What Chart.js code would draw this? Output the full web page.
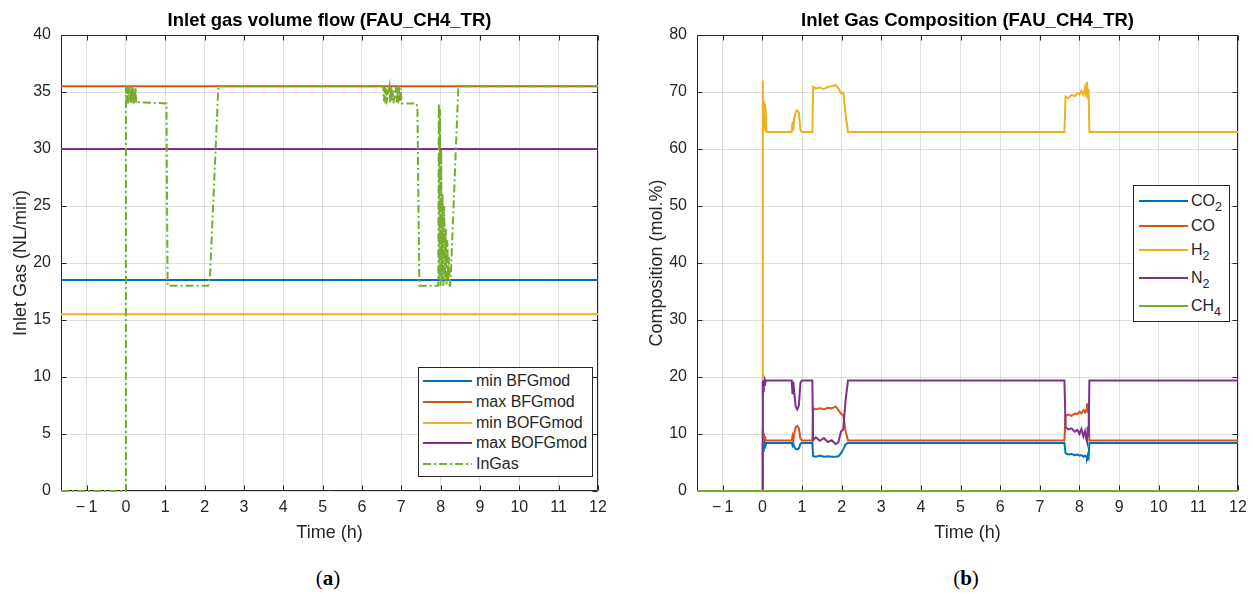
<!DOCTYPE html>
<html>
<head>
<meta charset="utf-8">
<script src="https://cdn.jsdelivr.net/npm/chart.js@4.4.0/dist/chart.umd.min.js"></script>
<style>
html,body{margin:0;padding:0;background:#fff;width:1253px;height:594px;overflow:hidden;font-family:"Liberation Sans",Arial,sans-serif;}
#wrap{position:relative;width:1253px;height:594px;}
canvas{position:absolute;top:0;}
#cA{left:0;}
#cB{left:636px;}
.legend{position:absolute;background:#fff;border:1px solid #262626;box-sizing:border-box;}
.item{position:absolute;left:0;height:20px;line-height:20px;font-size:16px;color:#262626;white-space:nowrap;}
.item svg{position:absolute;top:0;}
.item .t{position:absolute;top:0;}
.sub{font-size:12.5px;position:relative;top:5px;}
.caption{position:absolute;top:565px;width:200px;text-align:center;font-family:"Liberation Serif","DejaVu Serif",serif;font-size:21px;line-height:26px;color:#000;}
</style>
</head>
<body>
<div id="wrap">
  <canvas id="cA" width="610" height="560"></canvas>
  <canvas id="cB" width="614" height="560"></canvas>
  <div id="legA" class="legend" style="left:418px;top:367px;width:175px;height:110px;"></div>
  <div id="legB" class="legend" style="left:1133px;top:185px;width:97px;height:137px;"></div>
  <div class="caption" style="left:228px;">(<b>a</b>)</div>
  <div class="caption" style="left:866px;">(<b>b</b>)</div>
</div>
<script>
// ---------- shared axis data ----------
const xTickValues = [-1,0,1,2,3,4,5,6,7,8,9,10,11,12];
const xTickLabels = ['\u2212\u20091','0','1','2','3','4','5','6','7','8','9','10','11','12'];
const xMin = -1.65, xMax = 12;

// ---------- (a) Inlet gas volume flow ----------
const flowTitle = 'Inlet gas volume flow (FAU_CH4_TR)';
const flowYLabel = 'Inlet Gas (NL/min)';
const flowSeriesNames = ['min BFGmod','max BFGmod','min BOFGmod','max BOFGmod','InGas'];
const limitTime = [-1.65, 12];
const minBFGmod  = [18.5, 18.5];
const maxBFGmod  = [35.5, 35.5];
const minBOFGmod = [15.5, 15.5];
const maxBOFGmod = [30, 30];
const inGasTime = [
  -1.65, 0, 0, 0.02, 0.035, 0.05, 0.065, 0.08, 0.095, 0.11, 0.125, 0.14, 0.155, 0.17, 0.185, 0.2, 0.215, 0.23, 0.245, 0.26, 0.28,
  1.03, 1.06, 2.09, 2.14, 2.35,
  6.54, 6.56, 6.58, 6.60, 6.62, 6.64, 6.70, 6.72, 6.74, 6.76, 6.78, 6.80, 6.86, 6.88, 6.90, 6.92, 6.94, 6.96, 6.98, 7.01,
  7.39, 7.41, 7.46, 7.94,
  7.955, 7.97, 7.985, 8.00, 8.015, 8.03, 8.05, 8.07, 8.09, 8.11, 8.13, 8.15, 8.17, 8.19, 8.21, 8.23, 8.24,
  8.26, 8.45, 12
];
const inGasFlow = [
  0, 0, 35.5, 34.3, 35.5, 34.0, 35.4, 34.6, 35.5, 34.1, 35.2, 34.0, 35.5, 34.4, 35.3, 34.0, 35.0, 34.2, 35.4, 34.0, 34.1,
  34.0, 18.0, 18.0, 19.0, 35.5,
  35.5, 34.2, 35.5, 34.0, 35.3, 34.4, 35.5, 34.0, 35.5, 34.3, 35.2, 34.0, 35.5, 34.1, 35.4, 34.0, 35.5, 34.2, 35.3, 34.0,
  34.0, 33.5, 18.0, 18.0,
  34.0, 18.5, 33.5, 18.0, 30.0, 18.5, 26.0, 18.0, 25.0, 18.5, 23.0, 18.0, 22.0, 18.5, 20.5, 18.0, 18.0,
  19.0, 35.5, 35.5
];

// ---------- (b) Inlet gas composition ----------
const compTitle = 'Inlet Gas Composition (FAU_CH4_TR)';
const compYLabel = 'Composition (mol.%)';
const compSeriesNames = ['CO\u2082','CO','H\u2082','N\u2082','CH\u2084'];
const compTime = [
  -1.65, 0, 0.005, 0.015, 0.025, 0.035, 0.05, 0.065, 0.08, 0.10,
  0.74, 0.76, 0.78, 0.80, 0.84, 0.88, 0.92, 0.96, 1.00,
  1.26, 1.28, 1.35, 1.45, 1.55, 1.65, 1.75, 1.85, 1.92, 1.98, 2.04, 2.10, 2.16,
  7.62, 7.65, 7.72, 7.80, 7.88, 7.95, 8.00, 8.05, 8.10, 8.14, 8.17, 8.19, 8.21, 8.23, 8.25, 12
];
const co2 = [
  0, 0, 6.5, 8.2, 7.0, 8.3, 7.6, 8.4, 8.0, 8.4,
  8.4, 8.0, 8.4, 7.8, 7.4, 7.3, 7.5, 8.3, 8.4,
  8.4, 6.1, 6.0, 6.2, 6.0, 6.1, 6.0, 6.0, 6.1, 6.6, 7.3, 8.2, 8.4,
  8.4, 6.6, 6.4, 6.5, 6.3, 6.4, 6.2, 6.3, 6.0, 6.2, 6.0, 5.8, 6.3, 5.9, 8.4, 8.4
];
const co = [
  0, 0, 9.5, 10.8, 9.0, 10.2, 9.0, 9.6, 8.9, 8.85,
  8.85, 9.6, 8.9, 10.0, 11.2, 11.4, 11.0, 9.2, 8.85,
  8.85, 14.5, 14.3, 14.5, 14.3, 14.6, 14.5, 14.8, 14.2, 13.6, 13.3, 10.5, 8.85,
  8.85, 13.2, 13.4, 13.2, 13.6, 13.5, 13.9, 13.6, 14.2, 13.8, 14.3, 15.4, 13.7, 15.1, 8.85, 8.85
];
const h2 = [
  0, 0, 72.0, 64.0, 68.5, 63.5, 68.0, 63.2, 67.2, 63.0,
  63.0, 64.8, 63.2, 65.2, 66.5, 66.8, 66.4, 63.3, 63.0,
  63.0, 70.9, 70.6, 70.8, 70.5, 70.9, 71.0, 71.2, 70.7, 69.8, 69.9, 66.0, 63.0,
  63.0, 69.2, 68.9, 69.5, 69.3, 69.8, 69.6, 70.2, 69.5, 70.8, 69.3, 71.8, 68.8, 70.5, 63.0, 63.0
];
const n2 = [
  0, 0, 12.0, 19.4, 17.5, 19.4, 18.6, 19.4, 19.1, 19.4,
  19.4, 17.0, 19.2, 17.5, 14.8, 14.3, 15.0, 19.0, 19.4,
  19.4, 8.9, 9.4, 8.8, 9.3, 8.6, 8.9, 8.2, 8.6, 10.4, 10.8, 16.0, 19.4,
  19.4, 11.2, 10.8, 11.0, 10.4, 10.7, 10.0, 10.9, 9.6, 10.5, 9.2, 8.7, 11.3, 9.5, 19.4, 19.4
];
const ch4 = [
  0, 0, 0, 0, 0, 0, 0, 0, 0, 0,
  0, 0, 0, 0, 0, 0, 0, 0, 0,
  0, 0, 0, 0, 0, 0, 0, 0, 0, 0, 0, 0, 0,
  0, 0, 0, 0, 0, 0, 0, 0, 0, 0, 0, 0, 0, 0, 0, 0
];

// ---------- styling ----------
const C_BLUE = '#0072BD', C_ORANGE = '#D95319', C_YELLOW = '#EDB120', C_PURPLE = '#7E2F8E', C_GREEN = '#77AC30';
const INK = '#262626';
const DASHDOT = [8, 3, 2, 3];

Chart.defaults.font.family = '"Liberation Sans", Arial, Helvetica, sans-serif';
Chart.defaults.color = INK;

function toXY(t, v) { return t.map((x, i) => ({x: x, y: v[i]})); }

function line(label, t, v, color, order, dash) {
  return {
    label: label, data: toXY(t, v), borderColor: color, backgroundColor: color,
    borderWidth: 2, pointRadius: 0, tension: 0, fill: false, order: order,
    borderDash: dash || [], clip: 4
  };
}

const matlabBox = {
  id: 'matlabBox',
  beforeDatasetsDraw(chart) {
    const {ctx, chartArea: a, scales} = chart;
    const x = scales.x, y = scales.y;
    const l = Math.round(a.left) + 0.5, r = Math.round(a.right) - 0.5;
    const t = Math.round(a.top) + 0.5, b = Math.round(a.bottom) - 0.5;
    ctx.save();
    ctx.strokeStyle = INK;
    ctx.lineWidth = 1;
    ctx.setLineDash([]);
    ctx.beginPath();
    ctx.rect(l, t, r - l, b - t);
    const TL = 5;
    x.ticks.forEach(tk => {
      const px = Math.round(x.getPixelForValue(tk.value)) + 0.5;
      ctx.moveTo(px, b); ctx.lineTo(px, b - TL);
      ctx.moveTo(px, t); ctx.lineTo(px, t + TL);
    });
    y.ticks.forEach(tk => {
      const py = Math.round(y.getPixelForValue(tk.value)) + 0.5;
      ctx.moveTo(l, py); ctx.lineTo(l + TL, py);
      ctx.moveTo(r, py); ctx.lineTo(r - TL, py);
    });
    ctx.stroke();
    ctx.restore();
  }
};

function makeChart(canvasId, datasets, titleText, yTitle, yMax, yStep) {
  return new Chart(document.getElementById(canvasId), {
    type: 'line',
    data: {datasets: datasets},
    options: {
      responsive: false,
      animation: false,
      devicePixelRatio: 1,
      layout: {padding: {left: 0, right: 12, top: 0, bottom: 0}},
      plugins: {
        legend: {display: false},
        tooltip: {enabled: false},
        title: {
          display: true, text: titleText, color: '#000', fullSize: false,
          font: {size: 18.5, weight: 'bold', lineHeight: 1.2},
          padding: {top: 9.5, bottom: 3.3}
        }
      },
      scales: {
        x: {
          type: 'linear', min: xMin, max: xMax,
          afterBuildTicks: s => { s.ticks = xTickValues.map(v => ({value: v})); },
          afterFit: s => { s.height = 69; s.paddingLeft = 0; s.paddingRight = 0; },
          ticks: {
            autoSkip: false, maxRotation: 0, padding: 7, color: INK,
            font: {size: 16},
            callback: v => { const i = xTickValues.indexOf(v); return i >= 0 ? xTickLabels[i] : ''; }
          },
          grid: {color: 'rgba(38,38,38,0.15)', drawTicks: false, lineWidth: 1},
          border: {display: false},
          title: {display: true, text: 'Time (h)', color: INK, font: {size: 18, lineHeight: 1.2}, padding: {top: 0, bottom: 16.2}}
        },
        y: {
          type: 'linear', min: 0, max: yMax,
          afterFit: s => { s.width = 61; s.paddingTop = 0; s.paddingBottom = 0; },
          ticks: {stepSize: yStep, padding: 10, color: INK, font: {size: 16}},
          grid: {color: 'rgba(38,38,38,0.15)', drawTicks: false, lineWidth: 1},
          border: {display: false},
          title: {display: true, text: yTitle, color: INK, font: {size: 18, lineHeight: 1.2}, padding: {top: 10, bottom: 0}}
        }
      }
    },
    plugins: [matlabBox]
  });
}

const chartA = makeChart('cA', [
  line(flowSeriesNames[0], limitTime, minBFGmod, C_BLUE, 5),
  line(flowSeriesNames[1], limitTime, maxBFGmod, C_ORANGE, 4),
  line(flowSeriesNames[2], limitTime, minBOFGmod, C_YELLOW, 3),
  line(flowSeriesNames[3], limitTime, maxBOFGmod, C_PURPLE, 2),
  line(flowSeriesNames[4], inGasTime, inGasFlow, C_GREEN, 1, DASHDOT)
], flowTitle, flowYLabel, 40, 5);

const chartB = makeChart('cB', [
  line(compSeriesNames[0], compTime, co2, C_BLUE, 5),
  line(compSeriesNames[1], compTime, co, C_ORANGE, 4),
  line(compSeriesNames[2], compTime, h2, C_YELLOW, 3),
  line(compSeriesNames[3], compTime, n2, C_PURPLE, 2),
  line(compSeriesNames[4], compTime, ch4, C_GREEN, 1)
], compTitle, compYLabel, 80, 10);

// ---------- HTML legends built from the datasets ----------
function labelHTML(s) {
  return s.replace(/[\u2080-\u2089]/g, c => '<span class="sub">' + (c.charCodeAt(0) - 0x2080) + '</span>');
}
function buildLegend(elId, chart, centers, x0, x1, textX) {
  const el = document.getElementById(elId);
  chart.data.datasets.forEach((ds, i) => {
    const row = document.createElement('div');
    row.className = 'item';
    row.style.top = (centers[i] - 10) + 'px';
    row.style.width = '100%';
    const dash = ds.borderDash && ds.borderDash.length ? ' stroke-dasharray="' + ds.borderDash.join(' ') + '"' : '';
    row.innerHTML =
      '<svg width="' + (x1 + 2) + '" height="20" style="left:0"><line x1="' + x0 + '" y1="10" x2="' + x1 + '" y2="10" stroke="' + ds.borderColor + '" stroke-width="2"' + dash + '/></svg>' +
      '<span class="t" style="left:' + textX + 'px">' + labelHTML(ds.label) + '</span>';
    el.appendChild(row);
  });
}
buildLegend('legA', chartA, [13, 33.75, 54.5, 75.25, 96], 4, 53, 57);
buildLegend('legB', chartB, [15, 39.7, 64, 91.7, 119.7], 5, 54, 57);
</script>
</body>
</html>
